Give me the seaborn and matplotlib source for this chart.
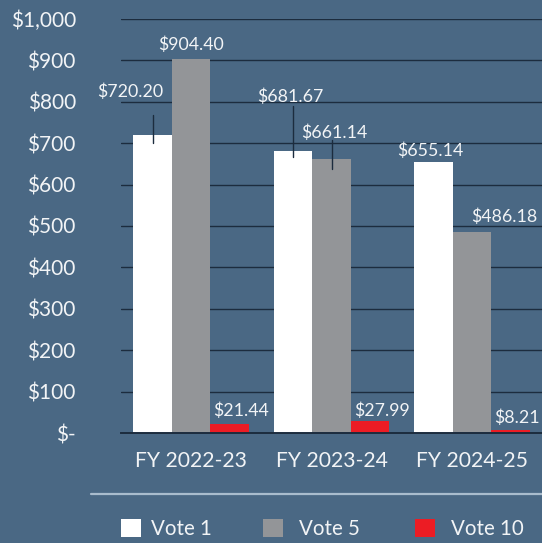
import matplotlib
matplotlib.use("Agg")
import matplotlib.pyplot as plt
import seaborn as sns
import pandas as pd
from matplotlib.patches import Patch
from matplotlib.lines import Line2D

years = ["FY 2022-23", "FY 2023-24", "FY 2024-25"]
series = ["Vote 1", "Vote 5", "Vote 10"]
vote1 = [720.20, 681.67, 655.14]
vote5 = [904.40, 661.14, 486.18]
vote10 = [21.44, 27.99, 8.21]
yticks = [0, 100, 200, 300, 400, 500, 600, 700, 800, 900, 1000]
ytick_labels = ["$-", "$100", "$200", "$300", "$400", "$500", "$600", "$700", "$800", "$900", "$1,000"]

BG = "#4a6884"
GRID = "#1c2c3e"
TXT = "#f2f4f6"
colors = ["#ffffff", "#939598", "#ec1c24"]

rows = []
for s, vals in zip(series, [vote1, vote5, vote10]):
    for y, v in zip(years, vals):
        rows.append({"year": y, "vote": s, "value": v})
df = pd.DataFrame(rows)

sns.set_theme(style="white")
plt.rcParams["font.family"] = ["Lato", "DejaVu Sans"]

fig = plt.figure(figsize=(5.42, 5.43), dpi=100)
fig.patch.set_facecolor(BG)
ax = fig.add_axes([121 / 542, 110 / 543, 421 / 542, 414 / 543])
ax.set_facecolor(BG)

sns.barplot(data=df, x="year", y="value", hue="vote", palette=colors,
            width=0.825, saturation=1, linewidth=0, ax=ax, legend=False)

ax.set_xlim(-0.5, 2.5)
ax.set_ylim(0, 1000)
ax.set_yticks(yticks)
ax.set_yticklabels(ytick_labels)
ax.set_xlabel("")
ax.set_ylabel("")
ax.grid(axis="y", color=GRID, linewidth=1.0)
ax.set_axisbelow(True)
for sp in ["top", "right", "left"]:
    ax.spines[sp].set_visible(False)
ax.spines["bottom"].set_color(GRID)
ax.spines["bottom"].set_linewidth(1.4)
ax.tick_params(axis="y", length=0, pad=32.5, labelsize=15, labelcolor=TXT)
ax.tick_params(axis="x", length=0, pad=13, labelsize=15.2, labelcolor=TXT)

# value labels: (series index, year index) -> pixel offsets of label from bar top
offsets = {
    (0, 0): (-22.5, 38), (1, 0): (0, 8.6), (2, 0): (11.5, 8),
    (0, 1): (-3, 49), (1, 1): (3, 21), (2, 1): (12, 5.4),
    (0, 2): (-2.5, 6), (1, 2): (32.5, 10), (2, 2): (7, 6.6),
}
leaders = {(0, 0): (48, -19), (0, 1): (109, -14), (1, 1): (46, -24)}

for si, cont in enumerate(ax.containers):
    for yi, bar in enumerate(cont):
        xc = bar.get_x() + bar.get_width() / 2
        h = bar.get_height()
        dx, dy = offsets[(si, yi)]
        ax.annotate(f"${h:,.2f}", xy=(xc, h), xytext=(dx, dy),
                    textcoords="offset pixels", ha="center", va="baseline",
                    fontsize=12.8, color=TXT)
        if (si, yi) in leaders:
            up, dn = leaders[(si, yi)]
            ax.plot([xc, xc], [h + up, h + dn], color=GRID, linewidth=1.0, zorder=5)

# separator line
fig.add_artist(Line2D([91 / 542, 1.0], [1 - 494 / 543] * 2, color="#a9bccd", linewidth=1.6))

# legend entries
leg_x = [121, 263, 415]
for s, c, lx in zip(series, colors, leg_x):
    lg = fig.legend(handles=[Patch(facecolor=c, edgecolor="none", label=s)],
                    loc="center left", bbox_to_anchor=(lx / 542, 1 - 529 / 543),
                    frameon=False, fontsize=14.8, handlelength=0.95, handleheight=0.95,
                    handletextpad=0.8 if lx != 121 else 0.5, borderpad=0, borderaxespad=0,
                    labelcolor=TXT)

fig.savefig("out.png", dpi=100, facecolor=BG)
